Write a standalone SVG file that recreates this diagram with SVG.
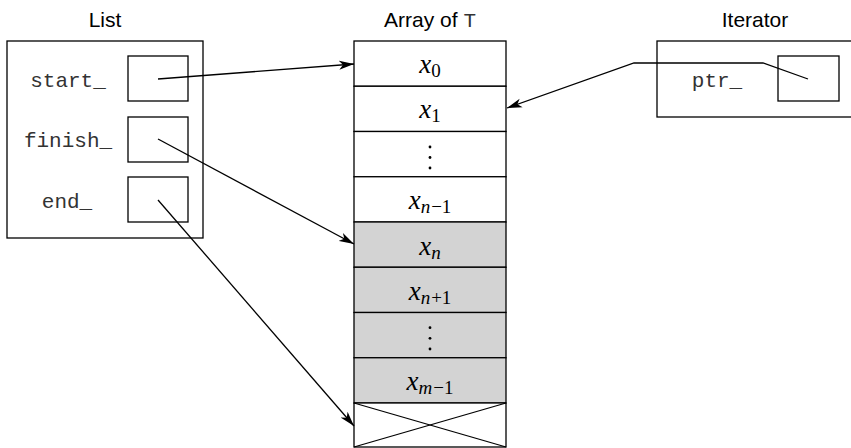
<svg xmlns="http://www.w3.org/2000/svg" width="851" height="448" viewBox="0 0 851 448">
<defs>
<style>
.box{fill:#fff;stroke:#000;stroke-width:1.3}
.cell{stroke:#000;stroke-width:1.3}
.gray{fill:#d3d3d3}
.white{fill:#fff}
.title{font-family:"Liberation Sans",Arial,sans-serif;font-size:21px;text-anchor:middle;fill:#000}
.mono{font-family:"Liberation Mono","Courier New",monospace;font-size:21px;text-anchor:middle;fill:#333}
.math{font-family:"Liberation Serif","Times New Roman",serif;font-size:27px;text-anchor:middle;fill:#000}
.it{font-style:italic}
.sub{font-size:19px}
.conn{fill:none;stroke:#000;stroke-width:1.3}
</style>
<marker id="arr" markerUnits="userSpaceOnUse" markerWidth="16" markerHeight="10" refX="15" refY="4.5" orient="auto" viewBox="0 0 16 9">
<path d="M0,0 L15,4.5 L0,9 L4,4.5 z" fill="#000"/>
</marker>
</defs>
<rect width="851" height="448" fill="#fff"/>

<g id="list">
<text class="title" x="105" y="27">List</text>
<rect class="box" x="7" y="41" width="196" height="197"/>
<rect class="box" x="128" y="56" width="60" height="45"/>
<rect class="box" x="128" y="117" width="60" height="45"/>
<rect class="box" x="128" y="177" width="60" height="45"/>
<text class="mono" x="68" y="87">start_</text>
<text class="mono" x="68" y="147">finish_</text>
<text class="mono" x="67" y="208">end_</text>
</g>

<g id="array">
<text class="title" x="430" y="27">Array of <tspan font-family="Liberation Mono, monospace" fill="#333">T</tspan></text>
<rect class="cell white" x="354" y="41" width="152" height="45.25"/>
<rect class="cell white" x="354" y="86.25" width="152" height="45.25"/>
<rect class="cell white" x="354" y="131.5" width="152" height="45.25"/>
<rect class="cell white" x="354" y="176.75" width="152" height="45.25"/>
<rect class="cell gray" x="354" y="222" width="152" height="45.25"/>
<rect class="cell gray" x="354" y="267.25" width="152" height="45.25"/>
<rect class="cell gray" x="354" y="312.5" width="152" height="45.25"/>
<rect class="cell gray" x="354" y="357.75" width="152" height="45.25"/>
<rect class="cell white" x="354" y="403" width="152" height="44"/>
<line class="cell" x1="354" y1="403" x2="506" y2="447"/>
<line class="cell" x1="354" y1="447" x2="506" y2="403"/>
<text class="math" x="430" y="73"><tspan class="it">x</tspan><tspan class="sub" dy="4">0</tspan></text>
<text class="math" x="430" y="118"><tspan class="it">x</tspan><tspan class="sub" dy="4">1</tspan></text>
<circle cx="430" cy="147" r="1.4"/>
<circle cx="430" cy="157.5" r="1.4"/>
<circle cx="430" cy="168" r="1.4"/>
<text class="math" x="430" y="209"><tspan class="it">x</tspan><tspan class="sub it" dy="4">n</tspan><tspan class="sub" dx="1">−1</tspan></text>
<text class="math" x="430" y="255"><tspan class="it">x</tspan><tspan class="sub it" dy="4">n</tspan></text>
<text class="math" x="430" y="300"><tspan class="it">x</tspan><tspan class="sub it" dy="4">n</tspan><tspan class="sub" dx="1">+1</tspan></text>
<circle cx="430" cy="327.7" r="1.4"/>
<circle cx="430" cy="338.3" r="1.4"/>
<circle cx="430" cy="349" r="1.4"/>
<text class="math" x="430" y="390"><tspan class="it">x</tspan><tspan class="sub it" dy="4">m</tspan><tspan class="sub" dx="1">−1</tspan></text>
</g>

<g id="iterator">
<text class="title" x="755" y="27">Iterator</text>
<rect class="box" x="657" y="41" width="200" height="76"/>
<rect class="box" x="778" y="56" width="61" height="45"/>
<text class="mono" x="717" y="87">ptr_</text>
</g>

<g id="connectors">
<line class="conn" x1="158" y1="79" x2="354" y2="64" marker-end="url(#arr)"/>
<line class="conn" x1="158" y1="139" x2="354" y2="244" marker-end="url(#arr)"/>
<line class="conn" x1="158" y1="200" x2="354" y2="426" marker-end="url(#arr)"/>
<polyline class="conn" points="808,79 763,63 634,63 507,108" marker-end="url(#arr)"/>
</g>
</svg>
